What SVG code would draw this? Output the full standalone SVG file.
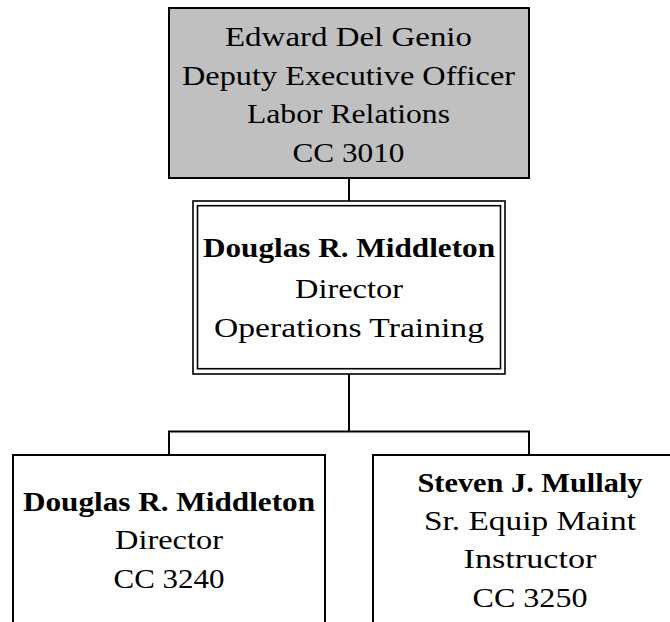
<svg xmlns="http://www.w3.org/2000/svg" width="670" height="622" viewBox="0 0 670 622">
<style>
  .box { fill: #ffffff; stroke: #000000; stroke-width: 2; }
  .gray { fill: #c0c0c0; }
  .thin { fill: none; stroke: #000000; stroke-width: 1.6; }
  .conn { fill: none; stroke: #000000; stroke-width: 2; }
  text { font-family: "Liberation Serif", "Times New Roman", serif; font-size: 28px; fill: #000000; text-anchor: middle; }
  .b { font-weight: bold; }
</style>
<rect width="670" height="622" fill="#ffffff"/>
<g id="connectors">
  <path class="conn" d="M349,178 V201"/>
  <path class="conn" d="M349,374 V431.5 M169,455 V431.5 H529 V455"/>
</g>
<g id="node-delgenio">
  <rect class="box gray" x="169" y="8" width="360" height="170"/>
  <text x="348.5" y="46" textLength="247" lengthAdjust="spacingAndGlyphs">Edward Del Genio</text>
  <text x="348.5" y="84.5" textLength="333" lengthAdjust="spacingAndGlyphs">Deputy Executive Officer</text>
  <text x="348.5" y="123" textLength="203" lengthAdjust="spacingAndGlyphs">Labor Relations</text>
  <text x="348.5" y="161.5" textLength="112" lengthAdjust="spacingAndGlyphs">CC 3010</text>
</g>
<g id="node-middleton-ops">
  <rect class="thin" x="193" y="201" width="312" height="173" fill="#ffffff"/>
  <rect class="thin" x="197.5" y="205.7" width="303" height="163"/>
  <text class="b" x="349" y="257.3" textLength="292" lengthAdjust="spacingAndGlyphs">Douglas R. Middleton</text>
  <text x="349" y="297.5" textLength="108" lengthAdjust="spacingAndGlyphs">Director</text>
  <text x="349" y="336.7" textLength="270" lengthAdjust="spacingAndGlyphs">Operations Training</text>
</g>
<g id="node-middleton-3240">
  <rect class="box" x="13" y="455" width="312" height="180"/>
  <text class="b" x="169" y="510.7" textLength="292" lengthAdjust="spacingAndGlyphs">Douglas R. Middleton</text>
  <text x="169" y="549" textLength="108" lengthAdjust="spacingAndGlyphs">Director</text>
  <text x="169" y="588.3" textLength="111" lengthAdjust="spacingAndGlyphs">CC 3240</text>
</g>
<g id="node-mullaly">
  <rect class="box" x="373" y="455" width="320" height="180"/>
  <text class="b" x="530" y="491.7" textLength="225" lengthAdjust="spacingAndGlyphs">Steven J. Mullaly</text>
  <text x="530" y="530" textLength="212" lengthAdjust="spacingAndGlyphs">Sr. Equip Maint</text>
  <text x="530" y="568.3" textLength="133" lengthAdjust="spacingAndGlyphs">Instructor</text>
  <text x="530" y="606.7" textLength="115" lengthAdjust="spacingAndGlyphs">CC 3250</text>
</g>
</svg>
